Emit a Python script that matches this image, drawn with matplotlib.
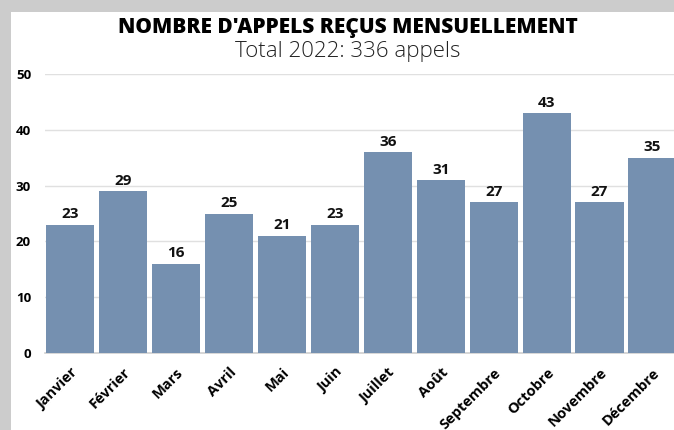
import matplotlib
matplotlib.use("Agg")
import matplotlib.pyplot as plt
from matplotlib.patches import Rectangle

months = ["Janvier", "Février", "Mars", "Avril", "Mai", "Juin", "Juillet",
          "Août", "Septembre", "Octobre", "Novembre", "Décembre"]
calls = [23, 29, 16, 25, 21, 23, 36, 31, 27, 43, 27, 35]
yticks = [0, 10, 20, 30, 40, 50]
title = "NOMBRE D'APPELS REÇUS MENSUELLEMENT"
subtitle = "Total 2022: 336 appels"

W, H = 674, 430
fig = plt.figure(figsize=(W / 100, H / 100), dpi=100, facecolor="#cccccc")
fig.patches.append(Rectangle((11 / W, 0), 1, 1 - 12 / H, transform=fig.transFigure,
                             facecolor="white", edgecolor="none", zorder=-5))

ax = fig.add_axes([45 / W, 77 / H, 635 / W, 279 / H])
ax.set_facecolor("none")
ax.set_zorder(2)
ax.set_axisbelow(True)
x = list(range(len(months)))
bars = ax.bar(x, calls, width=0.91, color="#7590b0", zorder=3)
for xi, v in zip(x, calls):
    ax.text(xi, v + 0.6, str(v), ha="center", va="bottom", fontsize=11,
            fontweight="bold", family="Open Sans", color="#111111")

ax.set_xlim(-0.48, 11.52)
ax.set_ylim(0, 50)
ax.set_yticks(yticks)
ax.set_yticklabels([str(t) for t in yticks], fontsize=9.5, fontweight="bold",
                   family="Open Sans")
ax.set_xticks(x)
ax.set_xticklabels(months, rotation=45, ha="right", rotation_mode="anchor",
                   fontsize=10.5, fontweight="bold", family="Open Sans")
ax.tick_params(axis="both", length=0)
ax.tick_params(axis="y", pad=10)
ax.tick_params(axis="x", pad=9)
ax.grid(axis="y", color="#e0e0e0", linewidth=1, zorder=0)
for s in ["top", "right", "left"]:
    ax.spines[s].set_visible(False)
ax.spines["bottom"].set_color("#d0d0d0")
ax.spines["bottom"].set_linewidth(1.2)

fig.text(348 / W, 1 - 27 / H, title, ha="center", va="center", fontsize=15,
         fontweight="heavy", family="Open Sans", color="black")
fig.text(348 / W, 1 - 52 / H, subtitle, ha="center", va="center", fontsize=16,
         fontweight="light", family="Open Sans", color="#222222")

fig.savefig("out.png", dpi=100, facecolor=fig.get_facecolor())
